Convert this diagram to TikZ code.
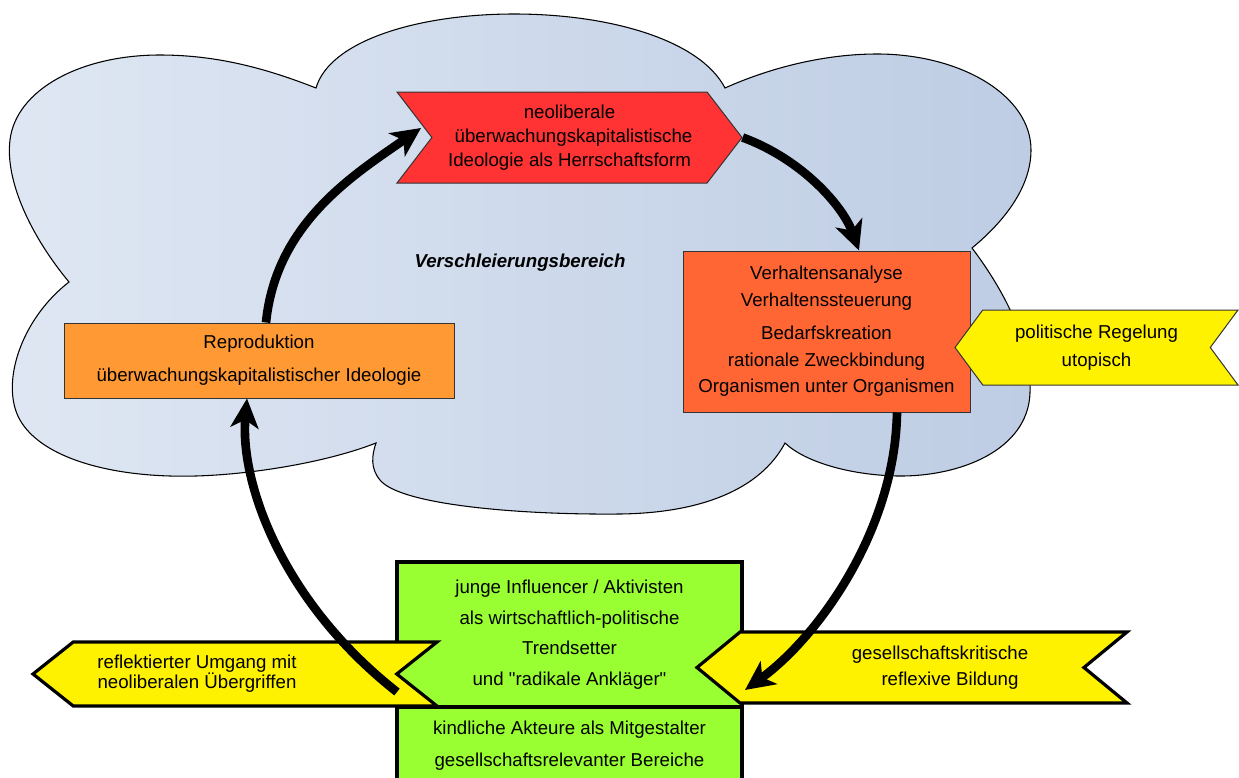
\documentclass[tikz,border=0pt]{standalone}
\usepackage{fontspec}
\setmainfont{Liberation Sans}[Ligatures=TeXOff]
\usepackage{xcolor}
\usetikzlibrary{arrows.meta,shapes.symbols}

\definecolor{cloudl}{RGB}{223,231,243}
\definecolor{cloudr}{RGB}{190,205,228}
\definecolor{ideored}{RGB}{255,51,51}
\definecolor{verhorange}{RGB}{255,102,51}
\definecolor{reproorange}{RGB}{255,153,51}
\definecolor{limegreen}{RGB}{153,255,51}

\begin{document}
\begin{tikzpicture}[x=0.75pt,y=-0.75pt,
	font=\fontsize{14}{18}\selectfont,
	box/.style={draw=black!80, line width=0.75pt, inner sep=0pt, align=center},
	greenbox/.style={draw=black, line width=2.6pt, fill=limegreen, inner sep=0pt, align=center, minimum width=258.75pt},
	flag/.style={shape=signal, signal from=east, signal to=west, fill=yellow, inner sep=0pt, align=center},
	flow/.style={line width=6.5pt, -{Stealth[length=22pt,width=21pt,inset=6pt]}}]
	\useasboundingbox (0,0) rectangle (1239,778);
	\clip (0,0) rectangle (1239,778);

	% cloud
	\draw[line width=0.8pt, left color=cloudl, right color=cloudr]
		(316,88) .. controls (330,40) and (420,14) .. (514,14)
		.. controls (610,14) and (700,40) .. (725,88)
		.. controls (765,70) and (820,54) .. (877,54)
		.. controls (960,54) and (1031,95) .. (1031,150)
		.. controls (1031,190) and (1000,225) .. (972,248)
		.. controls (1000,285) and (1032,340) .. (1030,393)
		.. controls (1028,450) and (960,477) .. (897,476)
		.. controls (850,475) and (805,462) .. (785,443)
		.. controls (760,490) and (700,513) .. (620,514)
		.. controls (520,515) and (400,505) .. (380,480)
		.. controls (370,468) and (372,455) .. (376,443)
		.. controls (320,465) and (230,478) .. (170,476)
		.. controls (100,474) and (40,455) .. (20,420)
		.. controls (0,385) and (20,320) .. (69,282)
		.. controls (30,235) and (5,180) .. (10,140)
		.. controls (16,90) and (80,55) .. (160,55)
		.. controls (220,55) and (270,70) .. (316,88) -- cycle;

	\node[box, fill=ideored, shape=signal, signal from=west, signal to=east, signal pointer angle=105, minimum width=258.75pt, minimum height=68.25pt] (ideo) at (569.5,137.5) {neoliberale\\\mbox{\kern6pt überwachungskapitalistische}\\Ideologie als Herrschaftsform};
	\node (bereich) at (520,263) {\textbf{\textit{Verschleierungsbereich}}};
	\node[box, fill=reproorange, minimum width=292.5pt, minimum height=56.25pt] (repro) at (259,360.5) {Reproduktion\\[7pt]überwachungskapitalistischer Ideologie};
	\node[box, fill=verhorange, minimum width=215.25pt, minimum height=120.75pt] (verhalten) at (826.5,331.5) {Verhaltensanalyse\\[2pt]Verhaltenssteuerung\\[7pt]Bedarfskreation\\[2pt]rationale Zweckbindung\\[2pt]Organismen unter Organismen};
	\node[flag, draw=black!80, line width=0.75pt, signal pointer angle=107, minimum width=212.25pt, minimum height=56.25pt] (regel) at (1096.5,347.5) {politische Regelung\\[3pt]utopisch};

	\node[greenbox, minimum height=108.75pt] (influencer) at (569.5,634.5) {junge Influencer / Aktivisten\\[5pt]als wirtschaftlich-politische\\[5pt]Trendsetter\\[5pt]und "radikale Ankläger"};
	\node[greenbox, minimum height=58.5pt] (akteure) at (569.5,746) {kindliche Akteure als Mitgestalter\\[6pt]gesellschaftsrelevanter Bereiche};

	\node[flag, draw=black, line width=2.4pt, signal pointer angle=77, minimum width=303pt, minimum height=48pt] (umgang) at (235,674) {\mbox{reflektierter Umgang mit\kern57pt}\\[-3pt]\mbox{neoliberalen Übergriffen\kern57pt}};
	\node[flag, draw=black, line width=2.4pt, signal pointer angle=79, minimum width=322.5pt, minimum height=53.25pt] (bildung) at (912,667.5) {\mbox{\kern42pt gesellschaftskritische}\\[2pt]\mbox{\kern57pt reflexive Bildung}};

	% cycle
	\draw[flow] ([shift={(7,0)}]repro.north) .. controls +(10,-100) and +(-66,46) .. ([shift={(-148.5,-9.5)}]ideo.center);
	\draw[flow] (ideo.east) .. controls +(60,22) and +(-16,-44) .. ([shift={(32.5,0)}]verhalten.north);
	\draw[flow] ([shift={(70.5,0)}]verhalten.south) .. controls +(-2,118) and +(73,-53) .. ([shift={(-167,22.5)}]bildung.center);
	\draw[flow] ([shift={(162,18)}]umgang.center) .. controls +(-117,-92) and +(-7,82) .. ([shift={(-12,0)}]repro.south);
\end{tikzpicture}
\end{document}
